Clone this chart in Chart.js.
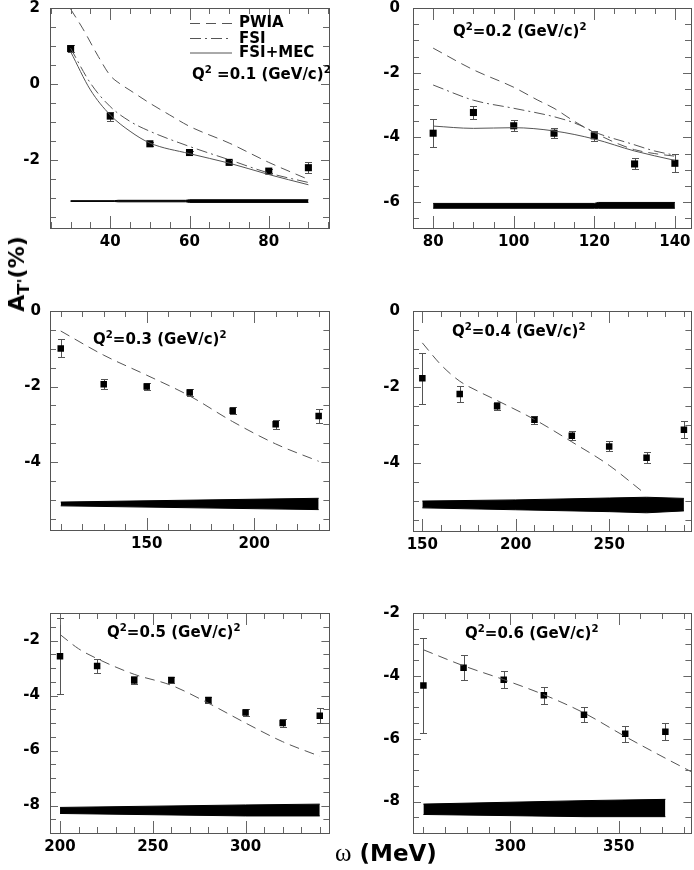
<!DOCTYPE html>
<html>
<head>
<meta charset="utf-8">
<script src="https://cdn.jsdelivr.net/npm/chart.js@4.4.1/dist/chart.umd.min.js"></script>
<style>
body{margin:0;background:#fff;width:694px;height:870px;position:relative;overflow:hidden;font-family:"DejaVu Sans",sans-serif;}
canvas{position:absolute;}
.lab{position:absolute;font-weight:bold;font-size:15px;line-height:1;white-space:nowrap;color:#000;}
.lab sup{font-size:0.68em;vertical-align:0.6em;line-height:0;}
.ytitle{position:absolute;left:17px;top:274px;font-weight:bold;font-size:22px;line-height:1;white-space:nowrap;transform:translate(-50%,-50%) rotate(-90deg);}
.ytitle sub{font-size:0.75em;vertical-align:-0.3em;line-height:0;}
.xtitle{position:absolute;left:335px;top:840px;font-weight:bold;font-size:23px;line-height:1;white-space:nowrap;}
.xtitle .w{font-family:"Liberation Serif",serif;font-weight:normal;font-size:25px;}
</style>
</head>
<body>

<canvas id="c1"></canvas>
<canvas id="c2"></canvas>
<canvas id="c3"></canvas>
<canvas id="c4"></canvas>
<canvas id="c5"></canvas>
<canvas id="c6"></canvas>

<div class="lab" style="left:239px;top:15px">PWIA</div>
<div class="lab" style="left:239px;top:31px">FSI</div>
<div class="lab" style="left:239px;top:45px">FSI+MEC</div>
<div class="lab" style="left:192px;top:67px">Q<sup>2</sup> =0.1 (GeV/c)<sup>2</sup></div>
<div class="lab" style="left:453px;top:24px">Q<sup>2</sup>=0.2 (GeV/c)<sup>2</sup></div>
<div class="lab" style="left:93px;top:332px">Q<sup>2</sup>=0.3 (GeV/c)<sup>2</sup></div>
<div class="lab" style="left:452px;top:324px">Q<sup>2</sup>=0.4 (GeV/c)<sup>2</sup></div>
<div class="lab" style="left:107px;top:625px">Q<sup>2</sup>=0.5 (GeV/c)<sup>2</sup></div>
<div class="lab" style="left:465px;top:626px">Q<sup>2</sup>=0.6 (GeV/c)<sup>2</sup></div>
<div class="ytitle">A<sub>T'</sub>(%)</div>
<div class="xtitle"><span class="w">ω</span> (MeV)</div>

<script>
/* ---------- Q2 = 0.1 ---------- */
const omega1 = [30, 40, 50, 60, 70, 80, 90];
const asym1 = [0.93, -0.85, -1.58, -1.81, -2.07, -2.30, -2.21];
const err1 = [0.10, 0.12, 0.05, 0.05, 0.05, 0.06, 0.15];
const pwiaX1 = [30, 33, 37, 40, 42.5, 45, 50, 55, 60, 70, 80, 90];
const pwia1 = [1.97, 1.47, 0.72, 0.22, 0.00, -0.17, -0.51, -0.82, -1.12, -1.56, -2.07, -2.52];
const fsiX1 = [30, 35, 40, 45, 50, 60, 70, 80, 90];
const fsi1 = [0.94, 0.02, -0.60, -0.99, -1.25, -1.65, -2.00, -2.35, -2.60];
const mecX1 = [30, 35, 40, 45, 50, 60, 70, 80, 90];
const mec1 = [0.85, -0.16, -0.82, -1.25, -1.56, -1.84, -2.09, -2.39, -2.66];
const bandX1 = [30, 41, 42, 59, 60, 90];
const bandHi1 = [-3.08, -3.08, -3.07, -3.07, -3.055, -3.055];
const bandLo1 = [-3.10, -3.10, -3.11, -3.11, -3.125, -3.125];
const xTicks1 = [40, 60, 80];
const yTicks1 = [2, 0, -2];

/* ---------- Q2 = 0.2 ---------- */
const omega2 = [80, 90, 100, 110, 120, 130, 140];
const asym2 = [-3.87, -3.23, -3.64, -3.87, -3.95, -4.82, -4.80];
const err2 = [0.43, 0.20, 0.17, 0.15, 0.15, 0.17, 0.28];
const pwiaX2 = [80, 90, 100, 106, 110, 115, 120, 125, 130, 135, 140];
const pwia2 = [-1.24, -1.91, -2.45, -2.85, -3.10, -3.50, -3.85, -4.15, -4.38, -4.50, -4.58];
const fsiX2 = [80, 90, 100, 110, 115, 121, 129, 135, 140];
const fsi2 = [-2.38, -2.85, -3.10, -3.36, -3.55, -3.88, -4.19, -4.42, -4.55];
const mecX2 = [80, 90, 100, 110, 120, 130, 140];
const mec2 = [-3.65, -3.72, -3.70, -3.80, -4.05, -4.42, -4.71];
const bandX2 = [80, 120, 121, 140];
const bandHi2 = [-6.04, -6.04, -6.01, -6.01];
const bandLo2 = [-6.19, -6.19, -6.19, -6.19];
const xTicks2 = [80, 100, 120, 140];
const yTicks2 = [0, -2, -4, -6];

/* ---------- Q2 = 0.3 ---------- */
const omega3 = [110, 130, 150, 170, 190, 210, 230];
const asym3 = [-0.99, -1.94, -2.00, -2.16, -2.64, -3.00, -2.78];
const err3 = [0.24, 0.13, 0.08, 0.10, 0.10, 0.12, 0.18];
const pwiaX3 = [110, 130, 150, 170, 190, 210, 230];
const pwia3 = [-0.53, -1.17, -1.70, -2.25, -2.93, -3.52, -3.98];
const bandX3 = [110, 230];
const bandHi3 = [-5.06, -4.96];
const bandLo3 = [-5.16, -5.26];
const xTicks3 = [150, 200];
const yTicks3 = [0, -2, -4];

/* ---------- Q2 = 0.4 ---------- */
const omega4 = [150, 170, 190, 210, 230, 250, 270, 290];
const asym4 = [-1.77, -2.19, -2.51, -2.87, -3.29, -3.57, -3.87, -3.13];
const err4 = [0.67, 0.20, 0.10, 0.10, 0.12, 0.13, 0.15, 0.22];
const pwiaX4 = [150, 160, 170, 180, 190, 210, 230, 250, 267];
const pwia4 = [-0.84, -1.42, -1.85, -2.12, -2.36, -2.86, -3.45, -4.07, -4.73];
const bandX4 = [150, 200, 250, 270, 290];
const bandHi4 = [-5.01, -4.98, -4.93, -4.91, -4.94];
const bandLo4 = [-5.19, -5.24, -5.29, -5.32, -5.27];
const xTicks4 = [150, 200, 250];
const yTicks4 = [0, -2, -4];

/* ---------- Q2 = 0.5 ---------- */
const omega5 = [200, 220, 240, 260, 280, 300, 320, 340];
const asym5 = [-2.57, -2.93, -3.45, -3.44, -4.16, -4.62, -5.00, -4.74];
const err5 = [1.39, 0.24, 0.15, 0.12, 0.12, 0.12, 0.15, 0.27];
const pwiaX5 = [200, 210, 220, 240, 260, 280, 300, 320, 340];
const pwia5 = [-1.78, -2.30, -2.66, -3.23, -3.63, -4.28, -5.00, -5.68, -6.21];
const bandX5 = [200, 300, 340];
const bandHi5 = [-8.07, -7.98, -7.95];
const bandLo5 = [-8.29, -8.38, -8.38];
const xTicks5 = [200, 250, 300];
const yTicks5 = [-2, -4, -6, -8];

/* ---------- Q2 = 0.6 ---------- */
const omega6 = [260, 278.5, 297, 315.5, 334, 353, 371.5];
const asym6 = [-4.31, -3.74, -4.12, -4.62, -5.24, -5.84, -5.78];
const err6 = [1.52, 0.40, 0.28, 0.26, 0.24, 0.26, 0.27];
const pwiaX6 = [260, 278.5, 297, 315.5, 334, 353, 371.5, 384];
const pwia6 = [-3.17, -3.68, -4.12, -4.60, -5.18, -5.93, -6.62, -7.07];
const bandX6 = [260, 334, 371.5];
const bandHi6 = [-8.08, -7.97, -7.93];
const bandLo6 = [-8.41, -8.48, -8.48];
const xTicks6 = [300, 350];
const yTicks6 = [-2, -4, -6, -8];


Chart.defaults.font.family = '"DejaVu Sans", sans-serif';
Chart.defaults.font.weight = 'bold';
Chart.defaults.font.size = 15;
Chart.defaults.color = '#000';

const LINE = '#555';
const DASH_PWIA = [10, 6];
const DASH_FSI = [11, 4, 2, 4];

function pts(xs, ys){
  return xs.map((x, i) => ({x: x, y: ys[i]}));
}

/* marcos y ticks estilo ROOT, hacia adentro en los cuatro lados */
function frameTicks(xMinor, yMinor){
  return {
    id: 'frameTicks',
    afterDatasetsDraw(chart){
      const ctx = chart.ctx;
      const a = chart.chartArea;
      const sx = chart.scales.x, sy = chart.scales.y;
      const xMaj = sx.ticks.map(t => t.value);
      const yMaj = sy.ticks.map(t => t.value);
      ctx.save();
      ctx.strokeStyle = '#666';
      ctx.lineWidth = 1;
      ctx.beginPath();
      for (let k = Math.ceil(sx.min / xMinor - 1e-9); k * xMinor <= sx.max + 1e-9; k++){
        const v = k * xMinor;
        const major = xMaj.some(m => Math.abs(m - v) < 1e-6);
        const len = major ? 12 : 6;
        const px = Math.round(sx.getPixelForValue(v)) + 0.5;
        ctx.moveTo(px, a.bottom); ctx.lineTo(px, a.bottom - len);
        ctx.moveTo(px, a.top); ctx.lineTo(px, a.top + len);
      }
      for (let k = Math.ceil(sy.min / yMinor - 1e-9); k * yMinor <= sy.max + 1e-9; k++){
        const v = k * yMinor;
        const major = yMaj.some(m => Math.abs(m - v) < 1e-6);
        const len = major ? 8 : 6;
        const py = Math.round(sy.getPixelForValue(v)) + 0.5;
        ctx.moveTo(a.left, py); ctx.lineTo(a.left + len, py);
        ctx.moveTo(a.right, py); ctx.lineTo(a.right - len, py);
      }
      ctx.stroke();
      ctx.strokeStyle = '#555';
      ctx.strokeRect(Math.round(a.left) + 0.5, Math.round(a.top) + 0.5,
                     Math.round(a.right - a.left), Math.round(a.bottom - a.top));
      ctx.restore();
    }
  };
}

/* barras de error */
function errorBars(xs, ys, es){
  return {
    id: 'errorBars',
    beforeDatasetsDraw(chart){
      const ctx = chart.ctx;
      const a = chart.chartArea;
      const sx = chart.scales.x, sy = chart.scales.y;
      ctx.save();
      ctx.beginPath();
      ctx.rect(a.left, a.top, a.right - a.left, a.bottom - a.top);
      ctx.clip();
      ctx.strokeStyle = '#555';
      ctx.lineWidth = 1;
      ctx.beginPath();
      xs.forEach((x, i) => {
        const px = Math.round(sx.getPixelForValue(x)) + 0.5;
        const y1 = Math.round(sy.getPixelForValue(ys[i] + es[i])) + 0.5;
        const y2 = Math.round(sy.getPixelForValue(ys[i] - es[i])) + 0.5;
        ctx.moveTo(px, y1); ctx.lineTo(px, y2);
        ctx.moveTo(px - 3.5, y1); ctx.lineTo(px + 3.5, y1);
        ctx.moveTo(px - 3.5, y2); ctx.lineTo(px + 3.5, y2);
      });
      ctx.stroke();
      ctx.restore();
    }
  };
}

/* muestras de linea de la leyenda (panel 1) */
const legendLines = {
  id: 'legendLines',
  afterDatasetsDraw(chart){
    const ctx = chart.ctx;
    const a = chart.chartArea;
    const rows = [[15, DASH_PWIA], [30, DASH_FSI], [44.5, []]];
    ctx.save();
    ctx.strokeStyle = LINE;
    ctx.lineWidth = 1;
    rows.forEach(r => {
      ctx.setLineDash(r[1]);
      ctx.beginPath();
      ctx.moveTo(a.left + 140, a.top + r[0] + 0.5);
      ctx.lineTo(a.left + 182, a.top + r[0] + 0.5);
      ctx.stroke();
    });
    ctx.restore();
  }
};

function curve(xs, ys, dash){
  return {
    type: 'line', data: pts(xs, ys),
    borderColor: LINE, borderWidth: 1, borderDash: dash,
    pointRadius: 0, fill: false, tension: 0.4, cubicInterpolationMode: 'monotone'
  };
}

function band(xs, hi, lo){
  return [
    {type: 'line', data: pts(xs, hi), borderColor: '#000', borderWidth: 1,
     pointRadius: 0, fill: false, tension: 0},
    {type: 'line', data: pts(xs, lo), borderColor: '#000', borderWidth: 1,
     pointRadius: 0, fill: '-1', backgroundColor: '#000', tension: 0}
  ];
}

function noPad(s){
  s.paddingTop = 0; s.paddingBottom = 0; s.paddingLeft = 0; s.paddingRight = 0;
}

function panel(id, box, p){
  const cv = document.getElementById(id);
  const fw = box.right - box.left, fh = box.bottom - box.top;
  cv.width = fw + 53;
  cv.height = fh + 42;
  cv.style.left = (box.left - 50) + 'px';
  cv.style.top = (box.top - 10) + 'px';

  const datasets = [];
  band(p.bandX, p.bandHi, p.bandLo).forEach(d => datasets.push(d));
  p.curves.forEach(c => datasets.push(curve(c[0], c[1], c[2])));
  datasets.push({
    type: 'scatter', data: pts(p.omega, p.asym),
    pointStyle: 'rect', pointRadius: p.r, backgroundColor: '#000',
    borderColor: '#000', borderWidth: 0
  });

  const plugins = [errorBars(p.omega, p.asym, p.err), frameTicks(p.xMinor, 0.5)];
  if (p.legend) plugins.push(legendLines);

  new Chart(cv, {
    type: 'scatter',
    data: {datasets: datasets},
    options: {
      responsive: false,
      devicePixelRatio: 1,
      animation: false,
      events: [],
      layout: {padding: {left: 0, top: 10, right: 3, bottom: 0}},
      plugins: {legend: {display: false}, tooltip: {enabled: false}},
      scales: {
        x: {
          type: 'linear', min: p.xMin, max: p.xMax,
          grid: {display: false, drawTicks: false}, border: {display: false},
          afterBuildTicks: s => { s.ticks = p.xTicks.map(v => ({value: v})); },
          afterFit: s => { s.height = 32; noPad(s); },
          ticks: {padding: 5, maxRotation: 0, autoSkip: false}
        },
        y: {
          type: 'linear', min: p.yMin, max: p.yMax,
          grid: {display: false, drawTicks: false}, border: {display: false},
          afterBuildTicks: s => { s.ticks = p.yTicks.map(v => ({value: v})); },
          afterFit: s => { s.width = 50; noPad(s); },
          ticks: {padding: p.yPad, autoSkip: false}
        }
      }
    },
    plugins: plugins
  });
}

panel('c1', {left: 50, top: 8, right: 331, bottom: 228}, {
  xMin: 24.8, xMax: 95.2, yMin: -3.8, yMax: 2, xTicks: xTicks1, yTicks: yTicks1, xMinor: 5, yPad: 10,
  omega: omega1, asym: asym1, err: err1, r: 5, legend: true,
  curves: [[pwiaX1, pwia1, DASH_PWIA], [fsiX1, fsi1, DASH_FSI], [mecX1, mec1, []]],
  bandX: bandX1, bandHi: bandHi1, bandLo: bandLo1
});

panel('c2', {left: 413, top: 8, right: 693, bottom: 228}, {
  xMin: 75, xMax: 144, yMin: -6.8, yMax: 0, xTicks: xTicks2, yTicks: yTicks2, xMinor: 5, yPad: 13,
  omega: omega2, asym: asym2, err: err2, r: 5,
  curves: [[pwiaX2, pwia2, DASH_PWIA], [fsiX2, fsi2, DASH_FSI], [mecX2, mec2, []]],
  bandX: bandX2, bandHi: bandHi2, bandLo: bandLo2
});

panel('c3', {left: 50, top: 311, right: 331, bottom: 530}, {
  xMin: 105, xMax: 235, yMin: -5.8, yMax: 0, xTicks: xTicks3, yTicks: yTicks3, xMinor: 10, yPad: 9,
  omega: omega3, asym: asym3, err: err3, r: 4.6,
  curves: [[pwiaX3, pwia3, DASH_PWIA]],
  bandX: bandX3, bandHi: bandHi3, bandLo: bandLo3
});

panel('c4', {left: 413, top: 311, right: 693, bottom: 531}, {
  xMin: 145, xMax: 294, yMin: -5.8, yMax: 0, xTicks: xTicks4, yTicks: yTicks4, xMinor: 10, yPad: 13,
  omega: omega4, asym: asym4, err: err4, r: 4.6,
  curves: [[pwiaX4, pwia4, DASH_PWIA]],
  bandX: bandX4, bandHi: bandHi4, bandLo: bandLo4
});

panel('c5', {left: 50, top: 613, right: 331, bottom: 833}, {
  xMin: 194.6, xMax: 345.2, yMin: -9, yMax: -1, xTicks: xTicks5, yTicks: yTicks5, xMinor: 10, yPad: 10,
  omega: omega5, asym: asym5, err: err5, r: 4.6,
  curves: [[pwiaX5, pwia5, DASH_PWIA]],
  bandX: bandX5, bandHi: bandHi5, bandLo: bandLo5
});

panel('c6', {left: 413, top: 613, right: 693, bottom: 833}, {
  xMin: 255.2, xMax: 383.5, yMin: -9, yMax: -2, xTicks: xTicks6, yTicks: yTicks6, xMinor: 10, yPad: 13,
  omega: omega6, asym: asym6, err: err6, r: 4.6,
  curves: [[pwiaX6, pwia6, DASH_PWIA]],
  bandX: bandX6, bandHi: bandHi6, bandLo: bandLo6
});
</script>
</body>
</html>
